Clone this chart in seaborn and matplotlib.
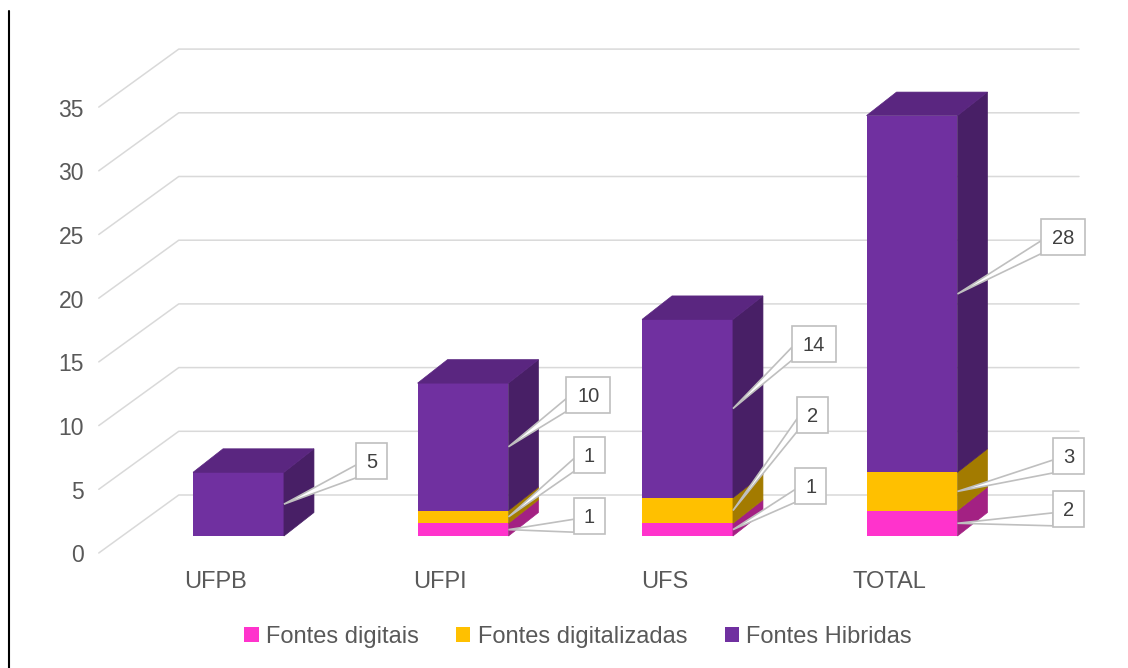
import matplotlib
matplotlib.use('Agg')
import matplotlib.pyplot as plt
import matplotlib.colors as mcolors
from matplotlib.patches import Polygon, Rectangle, Patch
from matplotlib.lines import Line2D
from matplotlib.transforms import offset_copy, IdentityTransform
import numpy as np
import seaborn as sns

universities = ['UFPB', 'UFPI', 'UFS', 'TOTAL']
fontes_digitais = [0, 1, 1, 2]
fontes_digitalizadas = [0, 1, 2, 3]
fontes_hibridas = [5, 10, 14, 28]
series_names = ['Fontes digitais', 'Fontes digitalizadas', 'Fontes Hibridas']
y_ticks = [0, 5, 10, 15, 20, 25, 30, 35]

colors = ['#FF33CC', '#FFC000', '#7030A0']
# callout box offsets in pixels (right, up) from the bar edge, per series and university
label_offsets = [
    [(0, 0), (81, 14), (78, 44), (111, 14)],
    [(0, 0), (81, 62), (80, 96), (111, 35)],
    [(88, 43), (80, 52), (81, 65), (106, 57)],
]

sns.set_style('white')
plt.rcParams['font.family'] = ['Liberation Sans', 'DejaVu Sans']

series = np.array([fontes_digitais, fontes_digitalizadas, fontes_hibridas])
tops = np.cumsum(series, axis=0)

W, H = 1128, 668
fig = plt.figure(figsize=(W / 100, H / 100), dpi=100)
xl, xr = -0.52, 3.49
bar_w = 0.405
ax = fig.add_axes([(238.5 + xl * 224.5) / W, 132 / H, (xr - xl) * 224.5 / W, 40 * 12.74 / H])

# front faces: draw tallest cumulative first, then overlay lower stacks
for k in reversed(range(3)):
    sns.barplot(x=universities, y=tops[k], color=colors[k], width=bar_w,
                saturation=1, linewidth=0, errorbar=None, ax=ax, zorder=3)

ax.set_xlim(xl, xr)
ax.set_ylim(0, 40)
ax.axis('off')

px_x = ax.bbox.width / (xr - xl)
px_y = ax.bbox.height / 40
dx, dy = 30 / px_x, 23.5 / px_y          # bar depth
wx, wy = 57 / px_x, 41 / px_y            # back wall
fx, fy = -23 / px_x, -17 / px_y          # front of floor


def shade(c, f):
    r, g, b = mcolors.to_rgb(c)
    return (r * f, g * f, b * f)


# perspective gridlines
for v in y_ticks:
    ax.plot([xl + fx, xl + wx, xr + wx], [v + fy, v + wy, v + wy],
            color='#D9D9D9', lw=1.1, zorder=1, clip_on=False)
    ax.text(xl, v, str(v), ha='right', va='baseline', fontsize=16.5, color='#595959',
            transform=offset_copy(ax.transData, fig, x=-38, y=-26.5, units='dots'))

half = bar_w / 2
ident = IdentityTransform()
for i, uni in enumerate(universities):
    ax.text(i, 0, uni, ha='center', va='baseline', fontsize=17, color='#595959',
            transform=offset_copy(ax.transData, fig, x=-23, y=-52, units='dots'))
    b = 0
    top_k = 0
    for k in range(3):
        h = series[k][i]
        if h == 0:
            continue
        xe = i + half
        ax.add_patch(Polygon([(xe, b), (xe + dx, b + dy), (xe + dx, b + h + dy), (xe, b + h)],
                             closed=True, fc=shade(colors[k], 0.64), ec=shade(colors[k], 0.64),
                             lw=0.5, zorder=3, clip_on=False))
        # callout
        axp, ayp = ax.transData.transform((xe, b + h / 2))
        ox, oy = label_offsets[k][i]
        cx, cy = axp + ox, ayp + oy
        bw, bh = 18 + 13 * len(str(h)), 36
        fig.add_artist(Polygon([(axp, ayp), (cx - bw / 2, cy - 0.1 * bh), (cx - bw / 2, cy - 0.46 * bh)],
                               closed=True, fc='white', ec='#BFBFBF', lw=1.2,
                               transform=ident, zorder=5))
        fig.add_artist(Rectangle((cx - bw / 2, cy - bh / 2), bw, bh, fc='white', ec='#BFBFBF',
                                 lw=1.2, transform=ident, zorder=6))
        fig.text(cx / W, (cy - 7) / H, str(h), ha='center', va='baseline', fontsize=14.5,
                 color='#404040', zorder=7)
        b += h
        top_k = k
    ax.add_patch(Polygon([(i - half, b), (i + half, b), (i + half + dx, b + dy), (i - half + dx, b + dy)],
                         closed=True, fc=shade(colors[top_k], 0.8), ec=shade(colors[top_k], 0.8),
                         lw=0.5, zorder=3, clip_on=False))

handles = [Patch(facecolor=c, edgecolor='none') for c in colors]
fig.legend(handles, series_names, loc='center', bbox_to_anchor=(578 / W, 1 - 637 / H), ncol=3,
           frameon=False, fontsize=17, handlelength=0.6, handleheight=0.6, handletextpad=0.3,
           columnspacing=1.6, labelcolor='#595959')

fig.add_artist(Line2D([9 / W, 9 / W], [0, 1 - 11 / H], transform=fig.transFigure, color='black', lw=1.5))

fig.savefig('out.png', dpi=100)
